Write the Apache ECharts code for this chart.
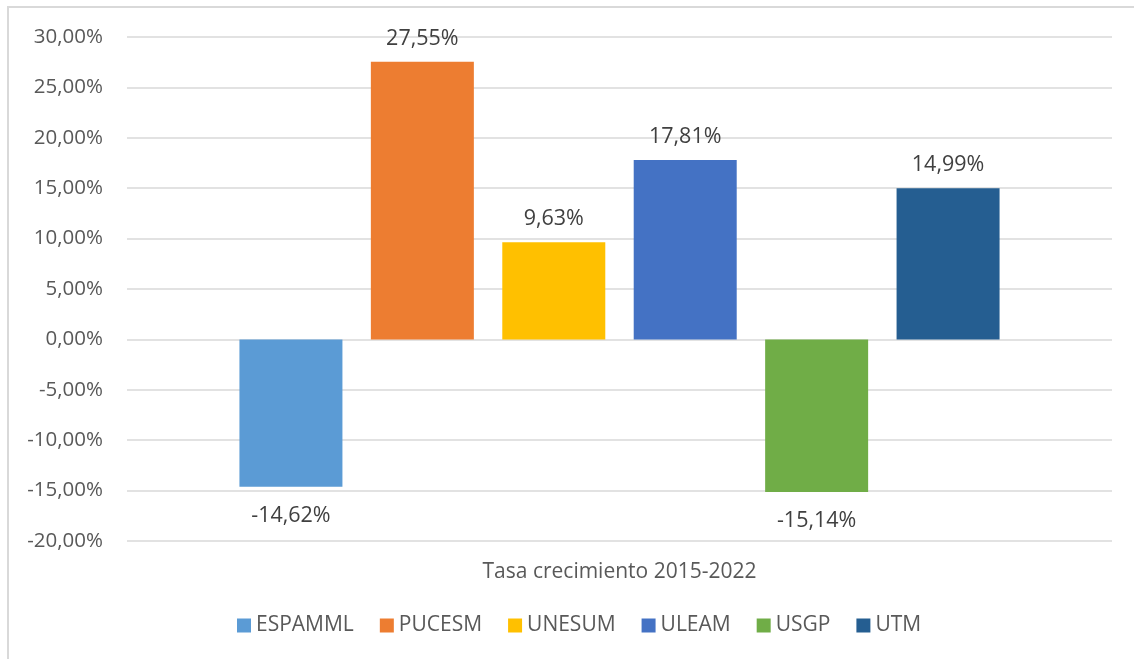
<!DOCTYPE html>
<html>
<head>
<meta charset="utf-8">
<script src="https://cdn.jsdelivr.net/npm/echarts@6/dist/echarts.min.js"></script>
<style>
html,body{margin:0;padding:0;background:#fff;}
#c{width:1134px;height:659px;}
</style>
</head>
<body>
<div id="c"></div>
<script>
var categories = ['Tasa crecimiento 2015-2022'];
var seriesNames = ['ESPAMML', 'PUCESM', 'UNESUM', 'ULEAM', 'USGP', 'UTM'];
var seriesValues = [-14.62, 27.55, 9.63, 17.81, -15.14, 14.99];
var seriesColors = ['#5B9BD5', '#ED7D31', '#FFC000', '#4472C4', '#70AD47', '#255E91'];
var yMin = -20, yMax = 30, yStep = 5;

var FONT = 'Open Sans';
function fmt(v) { return v.toFixed(2).replace('.', ',') + '%'; }

var chart = echarts.init(document.getElementById('c'), null, {renderer: 'canvas'});
var series = seriesNames.map(function (name, i) {
  var v = seriesValues[i];
  return {
    name: name,
    type: 'bar',
    data: [v],
    barWidth: 103,
    barGap: '27.6%',
    itemStyle: {color: seriesColors[i]},
    label: {
      show: true,
      position: v < 0 ? 'bottom' : 'top',
      distance: v < 0 ? 18 : 12,
      color: '#404040',
      fontFamily: FONT,
      fontSize: 21.5,
      formatter: function (p) { return fmt(p.value); }
    }
  };
});

chart.setOption({
  backgroundColor: '#ffffff',
  animation: false,
  graphic: [{
    type: 'rect',
    shape: {x: 8, y: 7, width: 1200, height: 700},
    style: {fill: 'none', stroke: '#d9d9d9', lineWidth: 2},
    silent: true
  }],
  grid: {left: 127, right: 22, top: 37, bottom: 118, containLabel: false},
  legend: {
    data: seriesNames,
    bottom: 23,
    left: 237,
    padding: 0,
    itemWidth: 14,
    itemHeight: 14,
    itemGap: 26,
    icon: 'rect',
    textStyle: {color: '#595959', fontFamily: FONT, fontSize: 21}
  },
  xAxis: {
    type: 'category',
    data: categories,
    position: 'bottom',
    axisLine: {show: false},
    axisTick: {show: false},
    axisLabel: {color: '#595959', fontFamily: FONT, fontSize: 21, margin: 21}
  },
  yAxis: {
    type: 'value',
    min: yMin,
    max: yMax,
    interval: yStep,
    axisLine: {show: false},
    axisTick: {show: false},
    splitLine: {lineStyle: {color: '#d9d9d9', width: 1.5}},
    axisLabel: {
      color: '#595959', fontFamily: FONT, fontSize: 20.5, margin: 24,
      formatter: function (v) { return fmt(v); }
    }
  },
  series: series
});
</script>
</body>
</html>
